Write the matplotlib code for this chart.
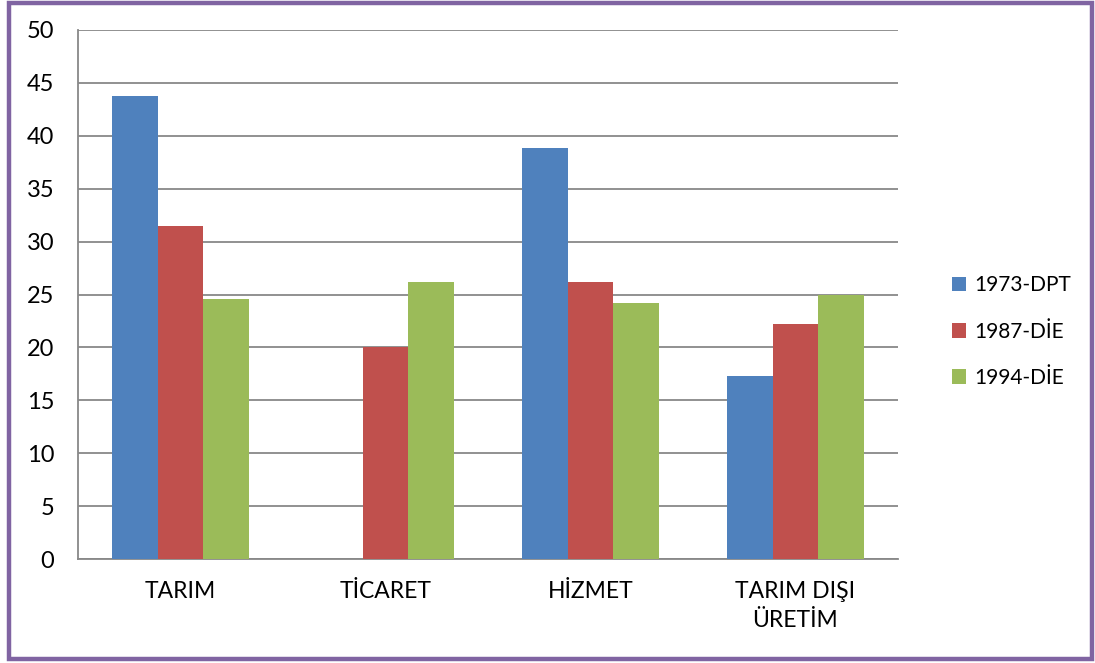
import matplotlib
matplotlib.use("Agg")
import matplotlib.pyplot as plt
import numpy as np
from matplotlib.patches import Rectangle

categories = ["TARIM", "TİCARET", "HİZMET", "TARIM DIŞI\nÜRETİM"]
series_names = ["1973-DPT", "1987-DİE", "1994-DİE"]
s1973 = [43.8, np.nan, 38.8, 17.3]
s1987 = [31.5, 20.0, 26.2, 22.2]
s1994 = [24.6, 26.2, 24.2, 25.0]
yticks = [0, 5, 10, 15, 20, 25, 30, 35, 40, 45, 50]
colors = ["#4F81BD", "#C0504D", "#9BBB59"]

plt.rcParams['font.family'] = ['Lato', 'DejaVu Sans']

fig = plt.figure(figsize=(10.95, 6.63), dpi=100)
ax = fig.add_axes([78/1095, 1-559/663, (898-78)/1095, (559-30)/663])

x = np.arange(len(categories))
w = 0.222
for i, (vals, name, c) in enumerate(zip([s1973, s1987, s1994], series_names, colors)):
    ax.bar(x + (i-1)*w, vals, width=w, color=c, label=name, zorder=3,
           edgecolor='none')

ax.set_xlim(-0.5, len(categories)-0.5)
ax.set_ylim(0, 50)
ax.set_yticks(yticks)
ax.yaxis.grid(True, color="#888888", linewidth=1.3, zorder=0)
ax.set_axisbelow(True)
for s in ['top', 'right']:
    ax.spines[s].set_visible(False)
for s in ['left', 'bottom']:
    ax.spines[s].set_color("#888888")
    ax.spines[s].set_linewidth(1.3)
ax.set_xticks(x)
ax.set_xticklabels(categories, fontsize=16.5, linespacing=1.45, va='top')
ax.tick_params(axis='y', length=0, pad=17, labelsize=17)
ax.tick_params(axis='x', length=0, pad=16)

fig.legend(loc='center left', bbox_to_anchor=(933/1095, 0.5), frameon=False,
           fontsize=15, handlelength=0.7, handleheight=0.7, handletextpad=0.4,
           labelspacing=1.25)

fig.patches.append(Rectangle((9/1095, 4/663), (1092-9)/1095, (661-5)/663,
                             transform=fig.transFigure, fill=False,
                             edgecolor="#8064A2", linewidth=3.2))

fig.savefig("out.png", dpi=100)
